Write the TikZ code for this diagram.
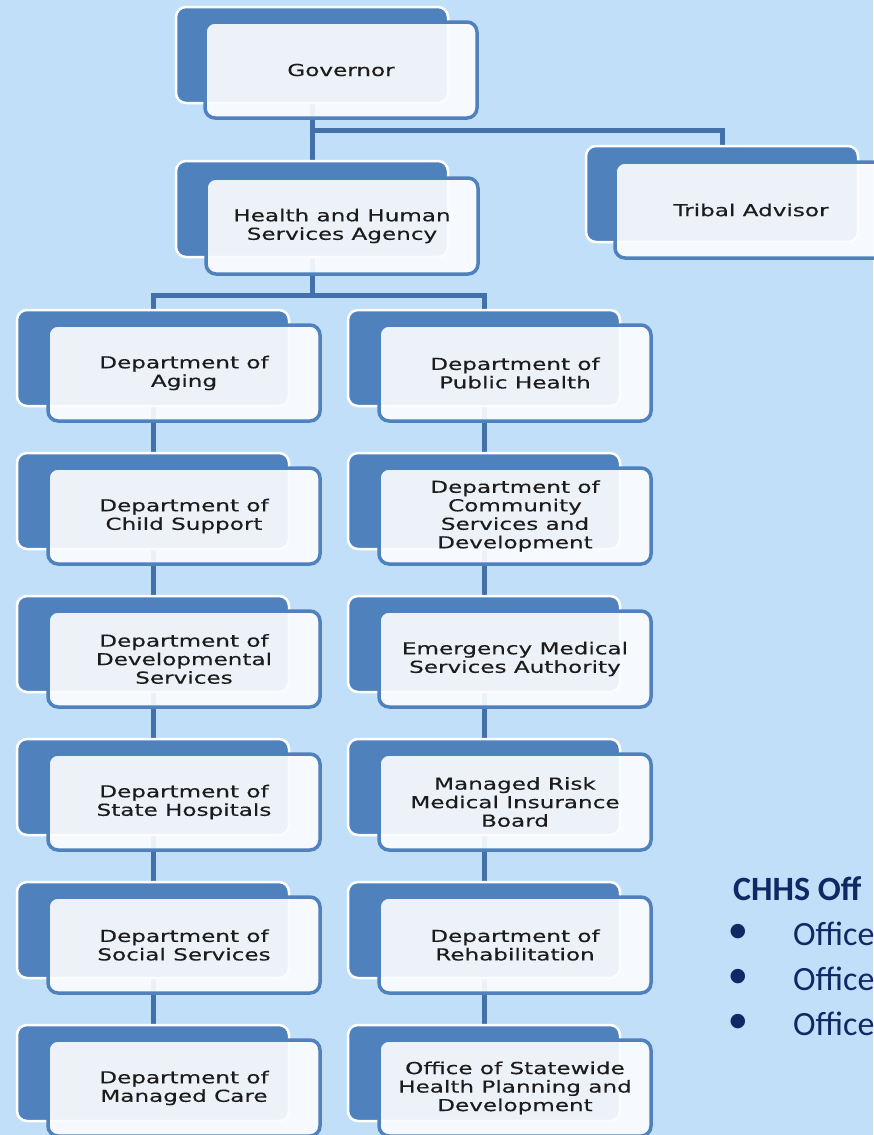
\documentclass[tikz,border=0pt]{standalone}
\usepackage{fontspec}
\newfontfamily\boxfont{DejaVu Sans}[FakeStretch=1.4, FakeBold=0.4]
\newfontfamily\notefont{Carlito}
\newfontfamily\dotfont{DejaVu Sans}
\usetikzlibrary{backgrounds}
\definecolor{skyblue}{RGB}{194,223,249}
\definecolor{boxblue}{RGB}{79,129,189}
\definecolor{linkblue}{RGB}{66,112,168}
\definecolor{panel}{RGB}{251,252,255}
\definecolor{darktext}{RGB}{28,28,28}
\definecolor{navy}{RGB}{16,40,100}

\begin{document}
\begin{tikzpicture}
        [x=1pt, y=-1pt,
        back/.style = {draw=white, fill=boxblue, line width=2.5pt, rounded corners=10pt, minimum width=272pt, minimum height=96pt},
        front/.style = {draw=boxblue, fill=panel, fill opacity=0.92, text opacity=1, line width=3.5pt, rounded corners=10pt, minimum width=272pt, minimum height=96pt, text=darktext, align=center, font=\boxfont\fontsize{16.5}{18.5}\selectfont},
        link/.style = {draw=linkblue, line width=5pt},
        note/.style = {text=navy, inner sep=0pt, font=\notefont\fontsize{34}{41}\selectfont},
        notehead/.style = {note, font=\notefont\bfseries\fontsize{34}{41}\selectfont},
        dot/.style = {text=navy, inner sep=0pt, font=\dotfont\fontsize{19}{19}\selectfont}]
        \useasboundingbox (0,0) rectangle (873,1135);

        % top of the chart
        \node[back] (gov-b) at (312,55) {};
        \node[front] (gov) at (341,70) {Governor};
        \node[back] (tribal-b) at (722,194) {};
        \node[front] (tribal) at (751,210) {Tribal Advisor};
        \node[back] (hhs-b) at (312,209) {};
        \node[front] (hhs) at (342,226) {Health and Human\\Services Agency};
        \coordinate (gov-fork) at (312,130);
        \coordinate (hhs-fork) at (312,295);

        % left column
        \node[back] (aging-b) at (153,358) {};
        \node[front] (aging) at (184,373) {Department of\\Aging};
        \node[back] (child-b) at (153,501) {};
        \node[front] (child) at (184,516) {Department of\\Child Support};
        \node[back] (devel-b) at (153,644) {};
        \node[front] (devel) at (184,659) {Department of\\Developmental\\Services};
        \node[back] (hosp-b) at (153,787) {};
        \node[front] (hosp) at (184,802) {Department of\\State Hospitals};
        \node[back] (social-b) at (153,930) {};
        \node[front] (social) at (184,945) {Department of\\Social Services};
        \node[back] (care-b) at (153,1073) {};
        \node[front] (care) at (184,1088) {Department of\\Managed Care};

        % right column
        \node[back] (health-b) at (484,358) {};
        \node[front] (health) at (515,373) {Department of\\Public Health};
        \node[back] (csd-b) at (484,501) {};
        \node[front] (csd) at (515,516) {Department of\\Community\\Services and\\Development};
        \node[back] (emsa-b) at (484,644) {};
        \node[front] (emsa) at (515,659) {Emergency Medical\\Services Authority};
        \node[back] (risk-b) at (484,787) {};
        \node[front] (risk) at (515,802) {Managed Risk\\Medical Insurance\\Board};
        \node[back] (rehab-b) at (484,930) {};
        \node[front] (rehab) at (515,945) {Department of\\Rehabilitation};
        \node[back] (plan-b) at (484,1073) {};
        \node[front] (plan) at (515,1088) {Office of Statewide\\Health Planning and\\Development};

        % offices list, cut by the right edge
        \node[notehead, anchor=base west] (offices) at (733,900) {CHHS Off};
        \node[dot] (dot1) at (738,932) {●};
        \node[note, anchor=base west] (office1) at (793,945) {Office};
        \node[dot] (dot2) at (738,977) {●};
        \node[note, anchor=base west] (office2) at (793,990) {Office};
        \node[dot] (dot3) at (738,1022) {●};
        \node[note, anchor=base west] (office3) at (793,1035) {Office};

        \begin{pgfonlayer}{background}
        \fill[skyblue] (0,0) rectangle (873,1135);
        \draw[link] (gov-b) -- (hhs-b);
        \draw[link] (gov-fork) -| (tribal-b);
        \draw[link] (hhs-b) -- (hhs-fork);
        \draw[link] (aging-b) |- (hhs-fork) -| (health-b);
        \draw[link] (aging-b) -- (child-b) -- (devel-b) -- (hosp-b) -- (social-b) -- (care-b);
        \draw[link] (health-b) -- (csd-b) -- (emsa-b) -- (risk-b) -- (rehab-b) -- (plan-b);
        \end{pgfonlayer}
\end{tikzpicture}
\end{document}
